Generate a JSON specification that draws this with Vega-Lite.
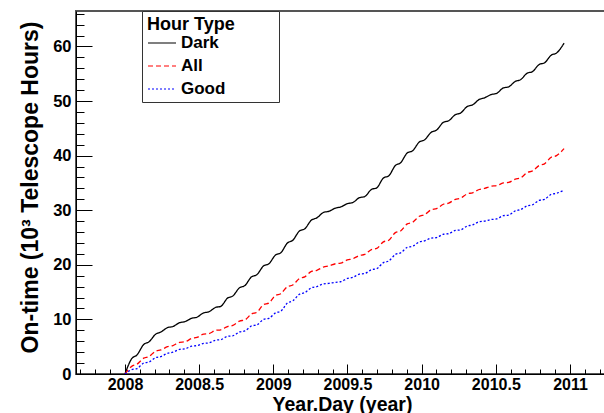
{
  "$schema": "https://vega.github.io/schema/vega-lite/v6.json",
  "width": 530,
  "height": 363,
  "autosize": {"type": "none"},
  "padding": {"left": 76, "top": 11, "right": 0, "bottom": 39},
  "background": "white",
  "config": {
    "view": {"stroke": "#555555", "strokeWidth": 2},
    "font": "Liberation Sans"
  },
  "data": {
    "values": [
      {"t": 2008.000, "Dark": 0, "All": 0, "Good": 0},
      {"t": 2008.045, "Dark": 2.8, "All": 1.4, "Good": 0.8},
      {"t": 2008.081, "Dark": 3.5, "All": 1.8, "Good": 1.0},
      {"t": 2008.126, "Dark": 5.4, "All": 2.9, "Good": 2.0},
      {"t": 2008.162, "Dark": 5.9, "All": 3.2, "Good": 2.2},
      {"t": 2008.207, "Dark": 7.3, "All": 4.2, "Good": 3.0},
      {"t": 2008.242, "Dark": 7.7, "All": 4.4, "Good": 3.2},
      {"t": 2008.287, "Dark": 8.5, "All": 5.0, "Good": 3.8},
      {"t": 2008.323, "Dark": 8.7, "All": 5.2, "Good": 4.0},
      {"t": 2008.368, "Dark": 9.4, "All": 5.8, "Good": 4.5},
      {"t": 2008.404, "Dark": 9.6, "All": 5.9, "Good": 4.6},
      {"t": 2008.449, "Dark": 10.2, "All": 6.5, "Good": 5.1},
      {"t": 2008.485, "Dark": 10.4, "All": 6.7, "Good": 5.2},
      {"t": 2008.530, "Dark": 11.2, "All": 7.3, "Good": 5.6},
      {"t": 2008.566, "Dark": 11.4, "All": 7.4, "Good": 5.7},
      {"t": 2008.611, "Dark": 12.2, "All": 8.0, "Good": 6.2},
      {"t": 2008.646, "Dark": 12.4, "All": 8.1, "Good": 6.3},
      {"t": 2008.691, "Dark": 13.9, "All": 8.7, "Good": 6.9},
      {"t": 2008.727, "Dark": 14.3, "All": 8.9, "Good": 7.0},
      {"t": 2008.772, "Dark": 15.8, "All": 9.7, "Good": 7.7},
      {"t": 2008.808, "Dark": 16.2, "All": 9.9, "Good": 7.9},
      {"t": 2008.853, "Dark": 17.8, "All": 11.0, "Good": 8.8},
      {"t": 2008.889, "Dark": 18.2, "All": 11.3, "Good": 9.0},
      {"t": 2008.934, "Dark": 19.8, "All": 12.7, "Good": 10.0},
      {"t": 2008.970, "Dark": 20.2, "All": 13.0, "Good": 10.2},
      {"t": 2009.015, "Dark": 21.8, "All": 14.4, "Good": 11.2},
      {"t": 2009.050, "Dark": 22.2, "All": 14.7, "Good": 11.5},
      {"t": 2009.095, "Dark": 24.0, "All": 16.0, "Good": 13.0},
      {"t": 2009.131, "Dark": 24.5, "All": 16.3, "Good": 13.4},
      {"t": 2009.176, "Dark": 26.2, "All": 17.5, "Good": 14.6},
      {"t": 2009.212, "Dark": 26.6, "All": 17.8, "Good": 14.9},
      {"t": 2009.257, "Dark": 28.2, "All": 18.8, "Good": 15.8},
      {"t": 2009.293, "Dark": 28.6, "All": 19.0, "Good": 16.0},
      {"t": 2009.338, "Dark": 29.6, "All": 19.6, "Good": 16.5},
      {"t": 2009.374, "Dark": 29.8, "All": 19.8, "Good": 16.6},
      {"t": 2009.419, "Dark": 30.4, "All": 20.2, "Good": 16.8},
      {"t": 2009.454, "Dark": 30.6, "All": 20.3, "Good": 16.9},
      {"t": 2009.499, "Dark": 31.2, "All": 20.9, "Good": 17.5},
      {"t": 2009.535, "Dark": 31.4, "All": 21.1, "Good": 17.7},
      {"t": 2009.580, "Dark": 32.3, "All": 21.7, "Good": 18.3},
      {"t": 2009.616, "Dark": 32.5, "All": 21.9, "Good": 18.4},
      {"t": 2009.661, "Dark": 33.8, "All": 22.8, "Good": 19.1},
      {"t": 2009.697, "Dark": 34.1, "All": 23.0, "Good": 19.3},
      {"t": 2009.742, "Dark": 35.9, "All": 24.2, "Good": 20.4},
      {"t": 2009.778, "Dark": 36.3, "All": 24.5, "Good": 20.7},
      {"t": 2009.823, "Dark": 38.2, "All": 25.9, "Good": 21.9},
      {"t": 2009.858, "Dark": 38.7, "All": 26.2, "Good": 22.2},
      {"t": 2009.903, "Dark": 40.5, "All": 27.5, "Good": 23.2},
      {"t": 2009.939, "Dark": 40.9, "All": 27.8, "Good": 23.4},
      {"t": 2009.984, "Dark": 42.5, "All": 28.9, "Good": 24.2},
      {"t": 2010.020, "Dark": 42.9, "All": 29.2, "Good": 24.4},
      {"t": 2010.065, "Dark": 44.3, "All": 30.1, "Good": 24.9},
      {"t": 2010.101, "Dark": 44.7, "All": 30.3, "Good": 25.0},
      {"t": 2010.146, "Dark": 46.1, "All": 31.1, "Good": 25.6},
      {"t": 2010.182, "Dark": 46.4, "All": 31.3, "Good": 25.7},
      {"t": 2010.227, "Dark": 47.5, "All": 32.0, "Good": 26.3},
      {"t": 2010.262, "Dark": 47.8, "All": 32.2, "Good": 26.4},
      {"t": 2010.307, "Dark": 49.0, "All": 33.0, "Good": 27.1},
      {"t": 2010.343, "Dark": 49.3, "All": 33.2, "Good": 27.3},
      {"t": 2010.388, "Dark": 50.3, "All": 33.8, "Good": 27.9},
      {"t": 2010.424, "Dark": 50.6, "All": 34.0, "Good": 28.0},
      {"t": 2010.469, "Dark": 51.2, "All": 34.4, "Good": 28.3},
      {"t": 2010.505, "Dark": 51.4, "All": 34.5, "Good": 28.4},
      {"t": 2010.550, "Dark": 52.4, "All": 35.0, "Good": 29.0},
      {"t": 2010.586, "Dark": 52.6, "All": 35.1, "Good": 29.1},
      {"t": 2010.631, "Dark": 53.6, "All": 35.7, "Good": 29.9},
      {"t": 2010.666, "Dark": 53.9, "All": 35.9, "Good": 30.1},
      {"t": 2010.711, "Dark": 55.1, "All": 36.9, "Good": 30.8},
      {"t": 2010.747, "Dark": 55.4, "All": 37.2, "Good": 31.0},
      {"t": 2010.792, "Dark": 56.7, "All": 38.2, "Good": 31.8},
      {"t": 2010.828, "Dark": 57.0, "All": 38.5, "Good": 32.0},
      {"t": 2010.873, "Dark": 58.4, "All": 39.7, "Good": 32.9},
      {"t": 2010.909, "Dark": 58.8, "All": 40.0, "Good": 33.1},
      {"t": 2010.960, "Dark": 60.6, "All": 41.3, "Good": 33.7}
    ]
  },
  "transform": [{"fold": ["Dark", "All", "Good"], "as": ["type", "value"]}],
  "layer": [
    {
      "mark": {"type": "line", "opacity": 0},
      "encoding": {
        "x": {
          "field": "t",
          "type": "quantitative",
          "scale": {"domain": [2007.6697, 2011.2427], "nice": false, "zero": false},
          "axis": {
            "orient": "bottom",
            "values": [2007.7, 2007.8, 2007.9, 2008, 2008.1, 2008.2, 2008.3, 2008.4, 2008.5, 2008.6, 2008.7, 2008.8, 2008.9, 2009, 2009.1, 2009.2, 2009.3, 2009.4, 2009.5, 2009.6, 2009.7, 2009.8, 2009.9, 2010, 2010.1, 2010.2, 2010.3, 2010.4, 2010.5, 2010.6, 2010.7, 2010.8, 2010.9, 2011, 2011.1, 2011.2],
            "labels": false,
            "title": null,
            "tickSize": {"condition": {"test": "abs(datum.value*2-round(datum.value*2))<0.001", "value": -10}, "value": -5},
            "grid": false,
            "domainColor": "black",
            "domainWidth": 1,
            "tickColor": "black",
            "tickWidth": 1
          }
        },
        "y": {
          "field": "value",
          "type": "quantitative",
          "scale": {"domain": [0, 66.5], "nice": false},
          "axis": {
            "orient": "left",
            "values": [0, 2, 4, 6, 8, 10, 12, 14, 16, 18, 20, 22, 24, 26, 28, 30, 32, 34, 36, 38, 40, 42, 44, 46, 48, 50, 52, 54, 56, 58, 60, 62, 64, 66],
            "labels": false,
            "title": null,
            "tickSize": {"condition": {"test": "datum.value % 10 == 0", "value": -16}, "value": -8},
            "grid": false,
            "domainColor": "black",
            "domainWidth": 1,
            "tickColor": "black",
            "tickWidth": 1
          }
        }
      }
    },
    {
      "mark": {"type": "line", "interpolate": "monotone", "strokeWidth": 1.3, "clip": true},
      "encoding": {
        "x": {
          "field": "t",
          "type": "quantitative",
          "axis": {
            "orient": "bottom",
            "values": [2008, 2008.5, 2009, 2009.5, 2010, 2010.5, 2011],
            "ticks": false,
            "domain": false,
            "grid": false,
            "labelOverlap": false,
            "labelFlush": false,
            "labelExpr": "'' + datum.value",
            "labelFont": "Liberation Sans",
            "labelFontWeight": "bold",
            "labelFontSize": 16,
            "labelColor": "black",
            "labelPadding": 2,
            "title": "Year.Day (year)",
            "titleFont": "Liberation Sans",
            "titleFontWeight": "bold",
            "titleFontSize": 19.5,
            "titleColor": "black",
            "titleX": 266,
            "titleY": 36,
            "titleBaseline": "alphabetic",
            "titleAlign": "center"
          }
        },
        "y": {
          "field": "value",
          "type": "quantitative",
          "axis": {
            "orient": "left",
            "values": [0, 10, 20, 30, 40, 50, 60],
            "ticks": false,
            "domain": false,
            "grid": false,
            "labelOverlap": false,
            "labelFlush": false,
            "labelFont": "Liberation Sans",
            "labelFontWeight": "bold",
            "labelFontSize": 16.5,
            "labelColor": "black",
            "labelPadding": 5,
            "title": "On-time (10³ Telescope Hours)",
            "titleFont": "Liberation Sans",
            "titleFontWeight": "bold",
            "titleFontSize": 23,
            "titleColor": "black",
            "titleAngle": -90,
            "titleX": -39,
            "titleY": 176,
            "titleBaseline": "alphabetic",
            "titleAlign": "center"
          }
        },
        "color": {
          "field": "type",
          "type": "nominal",
          "scale": {"domain": ["Dark", "All", "Good"], "range": ["#000000", "#ff0000", "#0000ff"]},
          "legend": {
            "title": "Hour Type\u2800\u2800\u2800",
            "orient": "none",
            "legendX": 66,
            "legendY": 0,
            "direction": "vertical",
            "fillColor": "white",
            "strokeColor": "#333333",
            "padding": 5,
            "titleFont": "Liberation Sans",
            "titleFontWeight": "bold",
            "titleFontSize": 18,
            "titleColor": "black",
            "titlePadding": -6,
            "labelFont": "Liberation Sans",
            "labelFontWeight": "bold",
            "labelFontSize": 17,
            "labelColor": "black",
            "labelOffset": 4,
            "symbolType": "stroke",
            "symbolSize": 784,
            "symbolStrokeWidth": 1.2,
            "rowPadding": -5
          }
        },
        "strokeDash": {
          "field": "type",
          "type": "nominal",
          "scale": {"domain": ["Dark", "All", "Good"], "range": [[1, 0], [5, 3], [2, 2]]},
          "legend": null
        }
      }
    }
  ],
  "resolve": {"axis": {"x": "independent", "y": "independent"}}
}
